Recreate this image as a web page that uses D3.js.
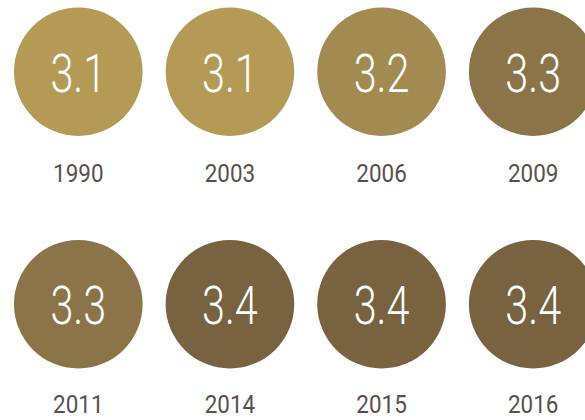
<!DOCTYPE html>
<html>
<head>
<meta charset="utf-8">
<script src="https://cdnjs.cloudflare.com/ajax/libs/d3/7.8.5/d3.min.js"></script>
<style>
  html, body { margin: 0; padding: 0; background: #fff; }
  svg { display: block; }
</style>
</head>
<body>
<div id="chart"></div>
<script>
// data
const years = ["1990", "2003", "2006", "2009", "2011", "2014", "2015", "2016"];
const values = [3.1, 3.1, 3.2, 3.3, 3.3, 3.4, 3.4, 3.4];
const colorStops = [3.1, 3.2, 3.3, 3.4];
const colorRange = ["#b59a56", "#a38a50", "#8b7447", "#78623f"];

const width = 585, height = 420;
const perRow = 4;
const r = 64.3;

const svg = d3.select("#chart").append("svg")
    .attr("width", width)
    .attr("height", height);

const x = d3.scalePoint().domain(d3.range(perRow)).range([78.3, 533.2]);
const y = d3.scalePoint().domain([0, 1]).range([71.7, 304.2]);
const color = d3.scaleLinear().domain(colorStops).range(colorRange);

const data = years.map((yr, i) => ({ year: yr, value: values[i], col: i % perRow, row: Math.floor(i / perRow) }));

const g = svg.selectAll("g.item")
    .data(data)
    .join("g")
    .attr("class", "item")
    .attr("transform", d => `translate(${x(d.col)},${y(d.row)})`);

g.append("circle")
    .attr("r", r)
    .attr("fill", d => color(d.value));

// value inside circle (light, condensed look)
g.append("text")
    .attr("transform", "translate(0,20) scale(0.78,1)")
    .attr("text-anchor", "middle")
    .attr("font-family", "Roboto")
    .attr("font-weight", 300)
    .attr("font-size", 53)
    .attr("fill", "#fff")
    .text(d => d3.format(".1f")(d.value));

// year label under circle
g.append("text")
    .attr("transform", d => `translate(0,${d.row === 0 ? 110 : 108.5}) scale(0.88,1)`)
    .attr("text-anchor", "middle")
    .attr("font-family", "Roboto")
    .attr("font-size", 25.5)
    .attr("fill", "#5b4f4c")
    .text(d => d.year);
</script>
</body>
</html>
